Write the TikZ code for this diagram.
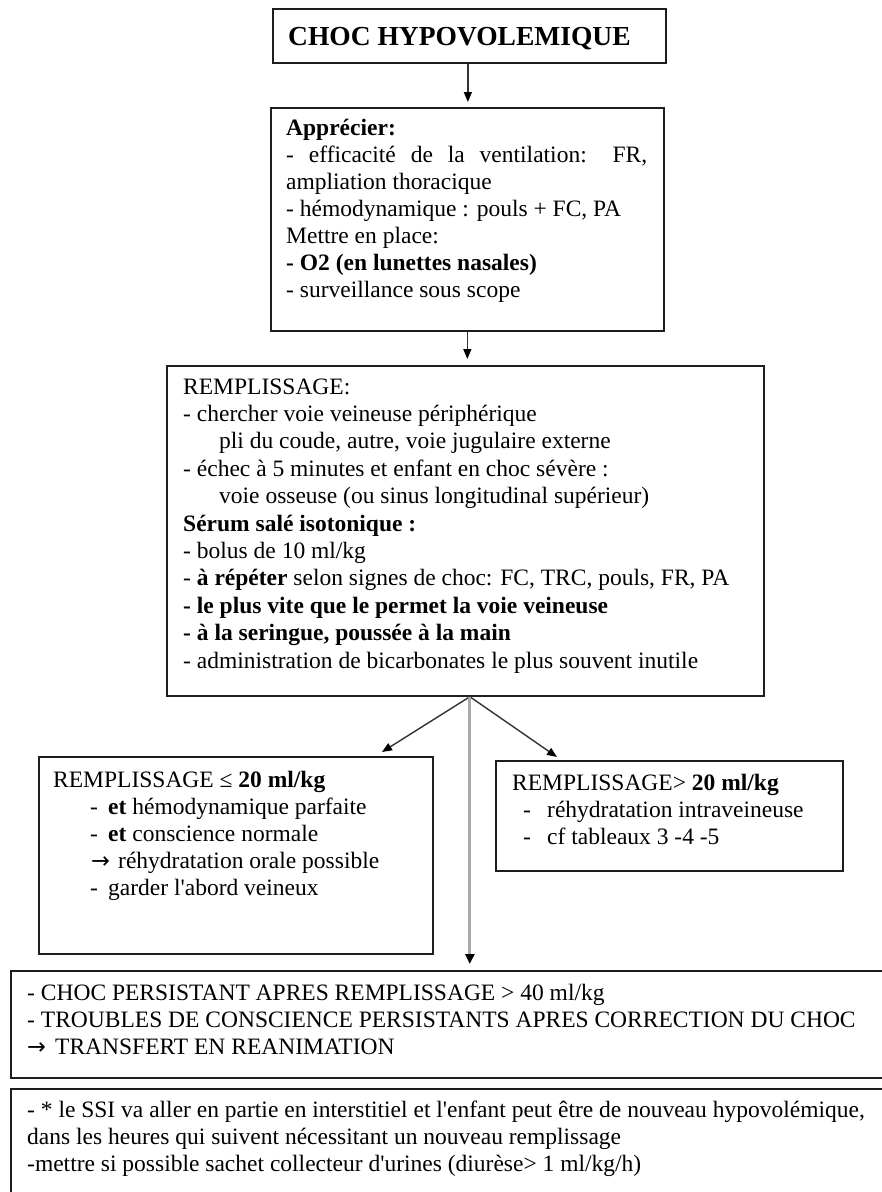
\documentclass[tikz,border=0pt]{standalone}
\usepackage{fontspec}
\newfontfamily\serifface{Liberation Serif}
\newfontfamily\symface{DejaVu Sans}
\usetikzlibrary{arrows.meta}
\definecolor{boxline}{HTML}{1E1E1E}
\definecolor{arrowline}{HTML}{333333}
\definecolor{grayline}{HTML}{A9A9A9}
\newcommand{\bodyfont}{\serifface\fontsize{23.5}{27}\selectfont}
\newcommand{\widebody}{\serifface\fontsize{23.5}{27.4}\selectfont}
\newcommand{\titlefont}{\serifface\bfseries\fontsize{27.5}{33}\selectfont}
\newcommand{\rarrow}{{\symface\fontsize{22.5}{27}\selectfont →}}
\tikzset{
  box/.style={draw=boxline, line width=1.7pt, rectangle, inner sep=0pt, anchor=north west},
  txt/.style={anchor=north west, inner sep=0pt, align=left, text=black, font=\bodyfont},
  arr/.style={draw=arrowline, line width=1.4pt, -{Triangle[length=10pt,width=8pt,color=black]}},
  grayarr/.style={draw=grayline, line width=3pt, -{Triangle[length=10pt,width=9pt,color=black]}},
}
\begin{document}
\begin{tikzpicture}[x=1pt,y=-1pt]
\useasboundingbox (0,0) rectangle (882,1192);
\fill[white] (0,0) rectangle (882,1192);
\clip (0,0) rectangle (882,1192);

% boxes
\node[box, minimum width=393pt, minimum height=54pt]  (title) at (272,8) {};
\node[box, minimum width=393pt, minimum height=223pt] (assess) at (270,107) {};
\node[box, minimum width=597pt, minimum height=330pt] (fill) at (166,365) {};
\node[box, minimum width=394pt, minimum height=197pt] (low) at (38,756) {};
\node[box, minimum width=347pt, minimum height=110pt] (high) at (495,760) {};
\node[box, minimum width=900pt, minimum height=107pt] (icu) at (10,970) {};
\node[box, minimum width=900pt, minimum height=150pt] (note) at (10,1088) {};

% texts
\node[txt, font=\titlefont] (titletxt) at (288,21.9) {\strut CHOC HYPOVOLEMIQUE};

\node[txt] (assesstxt) at (286,116.1) {\strut\textbf{Apprécier:}\\
\makebox[361pt][s]{- efficacité de la ventilation: FR,}\\
ampliation thoracique\\
- hémodynamique : pouls + FC, PA\\
Mettre en place:\\
\textbf{- O2 (en lunettes nasales)}\\
- surveillance sous scope};

\node[txt, font=\widebody] (filltxt) at (183,374.8) {\strut REMPLISSAGE:\\
- chercher voie veineuse périphérique\\
\hspace*{36pt}pli du coude, autre, voie jugulaire externe\\
- échec à 5 minutes et enfant en choc sévère :\\
\hspace*{36pt}voie osseuse (ou sinus longitudinal supérieur)\\
\textbf{Sérum salé isotonique :}\\
- bolus de 10 ml/kg\\
- \textbf{à répéter} selon signes de choc: FC, TRC, pouls, FR, PA\\
\textbf{- le plus vite que le permet la voie veineuse}\\
\textbf{- à la seringue, poussée à la main}\\
- administration de bicarbonates le plus souvent inutile};

\node[txt] (lowtxt) at (53,768.1) {\strut REMPLISSAGE ≤ \textbf{20 ml/kg}\\
\hspace*{37pt}\makebox[18pt][l]{-}\textbf{et} hémodynamique parfaite\\
\hspace*{37pt}\makebox[18pt][l]{-}\textbf{et} conscience normale\\
\hspace*{38pt}\makebox[27pt][l]{\rarrow}réhydratation orale possible\\
\hspace*{37pt}\makebox[18pt][l]{-}garder l'abord veineux};

\node[txt] (hightxt) at (512,771.1) {\strut REMPLISSAGE> \textbf{20 ml/kg}\\
\hspace*{11pt}\makebox[24pt][l]{-}réhydratation intraveineuse\\
\hspace*{11pt}\makebox[24pt][l]{-}cf tableaux 3 -4 -5};

\node[txt, font=\widebody] (icutxt) at (27,980.8) {\strut - CHOC PERSISTANT APRES REMPLISSAGE > 40 ml/kg\\
- TROUBLES DE CONSCIENCE PERSISTANTS APRES CORRECTION DU CHOC\\
\makebox[28pt][l]{\rarrow}TRANSFERT EN REANIMATION};

\node[txt, font=\widebody] (notetxt) at (27,1097.8) {\strut - * le SSI va aller en partie en interstitiel et l'enfant peut être de nouveau hypovolémique,\\
dans les heures qui suivent nécessitant un nouveau remplissage\\
-mettre si possible sachet collecteur d'urines (diurèse> 1 ml/kg/h)};

% connectors
\coordinate (fork) at ([xshift=4.5pt]fill.south);
\coordinate (lowtip) at (382,752);
\coordinate (hightip) at (557,757);
\draw[arr, shorten >=5pt] ([xshift=-1.5pt]title.south) -- ([xshift=-1.5pt]title.south |- assess.north);
\draw[arr, shorten >=6pt] (assess.south) -- (assess.south |- fill.north);
\draw[arr] (fork) -- (lowtip);
\draw[arr] (fork) -- (hightip);
\draw[grayarr, shorten >=6pt] (fork) -- (fork |- icu.north);
\end{tikzpicture}
\end{document}
